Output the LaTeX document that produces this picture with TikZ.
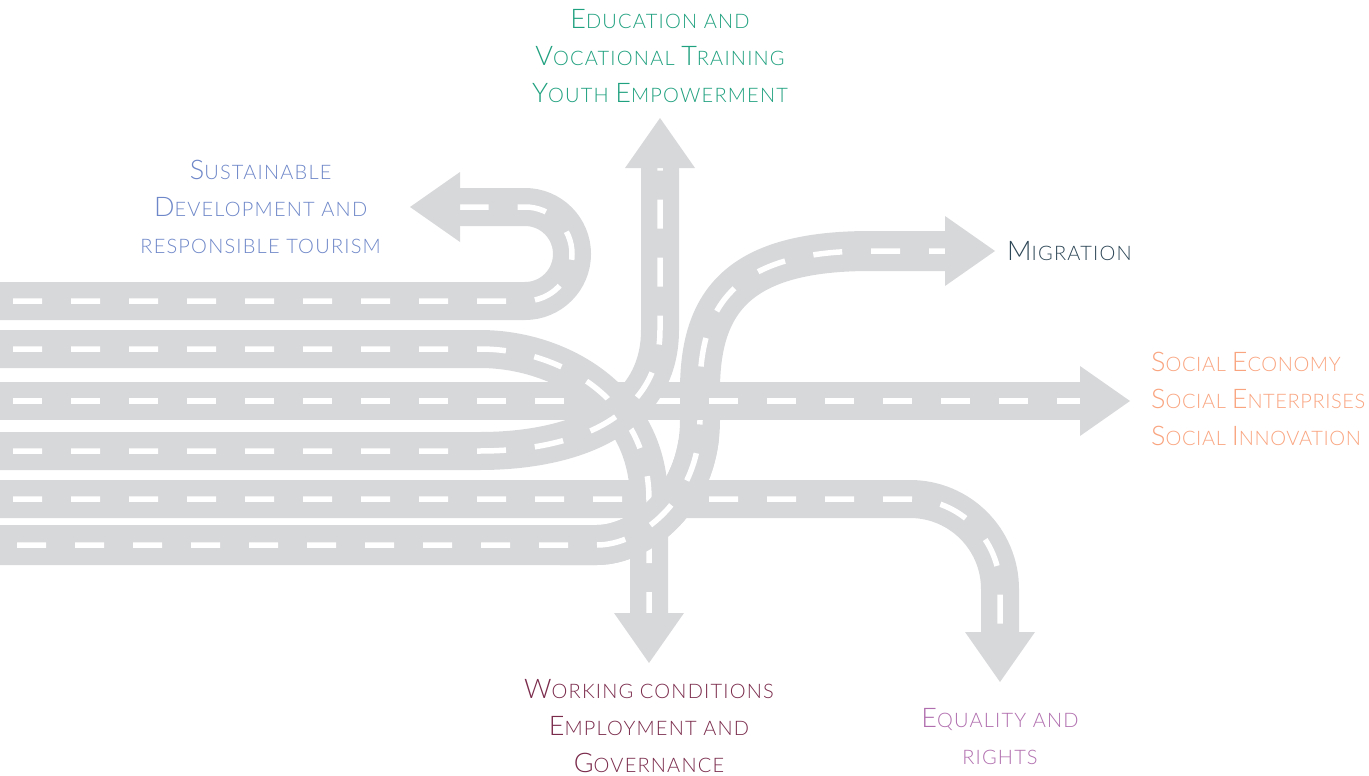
\documentclass[tikz,border=0pt]{standalone}
\usepackage{fontspec}
\setmainfont{Lato}[UprightFont=* Light, LetterSpace=6]
\usetikzlibrary{positioning}
\definecolor{roadgray}{HTML}{D7D8DA}
\definecolor{edugreen}{HTML}{1FA07E}
\definecolor{susblue}{HTML}{6E87C8}
\definecolor{migslate}{HTML}{2D4656}
\definecolor{socsalmon}{HTML}{F9A47F}
\definecolor{workmaroon}{HTML}{7A2B4B}
\definecolor{equmauve}{HTML}{B06EAE}
\newcommand\initcap[1]{{\fontsize{27}{37}\selectfont #1}}
\newcommand\scword[2]{\initcap{#1}\MakeUppercase{#2}}
\tikzset{road/.style = {draw=roadgray, line width=38pt},
         lane/.style = {draw=white, line width=5.5pt,
                        dash pattern=on 29pt off 29pt, dash phase=45pt},
         head/.pic = {\fill[roadgray] (0,-35) -- (50,0) -- (0,35) -- cycle;
                      \coordinate (-tip) at (50,0);},
         label/.style = {font=\fontsize{20}{37}\selectfont, align=center, inner sep=0pt}}

\begin{document}
\begin{tikzpicture}[x=1pt,y=-1pt]
    \useasboundingbox (0,0) rectangle (1369,776);
    % u-turn back to the left
    \draw [road, rounded corners=47pt, postaction={lane}] (0,301) -- (572,301) -- (572,207) -- (460,207);
    \pic [rotate=180] (sus) at (460,207) {head};
    % bend down to the right
    \draw [road, rounded corners=90pt, postaction={lane}] (0,499) -- (1000,499) -- (1000,632);
    \pic [rotate=-90] (equ) at (1000,632) {head};
    % up and over to migration
    \draw [road, line width=40pt, postaction={lane, dash phase=41pt}] (0,545) -- (597,545)
      .. controls (640,545) and (700,500) .. (700,420) -- (700,390)
      .. controls (700,300) and (740,251) .. (870,251) -- (945,251);
    \pic (mig) at (945,251) {head};
    % straight on
    \draw [road, postaction={lane}] (0,401) -- (1080,401);
    \pic (soc) at (1080,401) {head};
    % down through the crossing
    \draw [road, postaction={lane}] (0,349) -- (480,349)
      .. controls (560,349) and (649,400) .. (649,500) -- (649,613);
    \pic [rotate=-90] (work) at (649,613) {head};
    % up through the crossing
    \draw [road, postaction={lane}] (0,451) -- (480,451)
      .. controls (570,451) and (660,420) .. (660,330) -- (660,168);
    \pic [rotate=90] (edu) at (660,168) {head};
    % lower bend of the migration road lies on top
    \begin{scope}
      \clip (560,440) rectangle (730,572);
      \draw [road, line width=40pt, postaction={lane, dash phase=41pt}] (0,545) -- (597,545)
        .. controls (640,545) and (700,500) .. (700,420) -- (700,390);
    \end{scope}

    \node [label, text=edugreen, above=15pt of edu-tip] (edu) {\scword{E}{ducation and}\\
      \scword{V}{ocational }\scword{T}{raining}\\ \scword{Y}{outh }\scword{E}{mpowerment}};
    \node [label, text=susblue, left=29pt of sus-tip] (sus) {\scword{S}{ustainable}\\
      \scword{D}{evelopment and}\\ \MakeUppercase{responsible tourism}};
    \node [label, text=migslate, right=12pt of mig-tip] (mig) {\scword{M}{igration}};
    \node [label, align=left, text=socsalmon, font=\fontsize{20}{37}\selectfont\addfontfeatures{LetterSpace=3},
      right=21pt of soc-tip, yshift=2pt] (soc) {\scword{S}{ocial }\scword{E}{conomy}\\
      \scword{S}{ocial }\scword{E}{nterprises}\\ \scword{S}{ocial }\scword{I}{nnovation}};
    \node [label, text=workmaroon, below=16pt of work-tip] (work) {\scword{W}{orking conditions}\\
      \scword{E}{mployment and}\\ \scword{G}{overnance}};
    \node [label, text=equmauve, below=26pt of equ-tip] (equ) {\scword{E}{quality and}\\
      \MakeUppercase{rights}};
\end{tikzpicture}
\end{document}
